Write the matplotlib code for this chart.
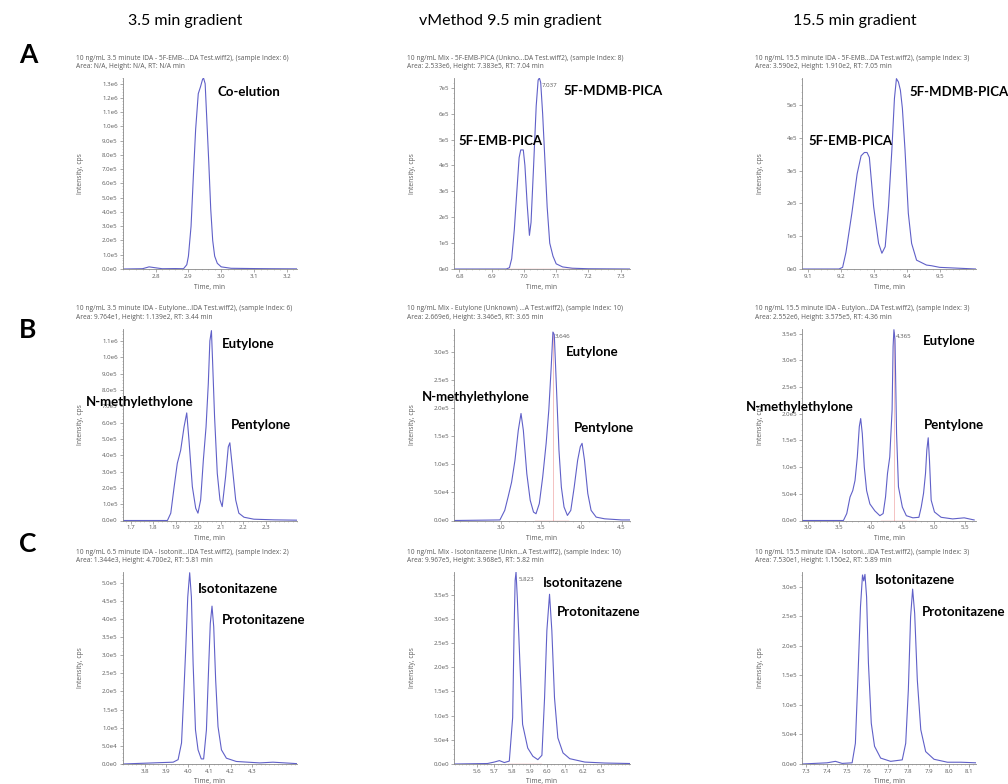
import numpy as np
import matplotlib.pyplot as plt
from matplotlib.ticker import AutoMinorLocator

W, H = 1008, 784

# column headers and row letters
col_titles = ['3.5 min gradient', 'vMethod 9.5 min gradient', '15.5 min gradient']
row_letters = ['A', 'B', 'C']

# ---- traces (time in min, intensity in units of 1e5 cps) ----
a1_t = [2.700, 2.760, 2.780, 2.795, 2.820, 2.860, 2.885, 2.895, 2.900, 2.908, 2.915, 2.922, 2.930,
        2.937, 2.943, 2.946, 2.951, 2.956, 2.962, 2.968, 2.974, 2.980, 2.988, 3.000, 3.030, 3.100,
        3.150, 3.230]
a1_i = [0.00, 0.02, 0.15, 0.10, 0.02, 0.03, 0.02, 0.30, 0.9, 3.0, 6.5, 9.8, 12.3,
        12.8, 13.3, 13.4, 13.0, 10.5, 7.5, 4.2, 2.0, 0.9, 0.4, 0.15, 0.05, 0.03,
        0.02, 0.01]

a2_t = [6.783, 6.900, 6.945, 6.955, 6.962, 6.970, 6.978, 6.985, 6.990, 6.998, 7.003, 7.010, 7.017,
        7.022, 7.030, 7.038, 7.044, 7.048, 7.052, 7.058, 7.065, 7.072, 7.080, 7.090, 7.100, 7.120,
        7.150, 7.200, 7.330]
a2_i = [0.00, 0.00, 0.00, 0.05, 0.4, 1.5, 3.0, 4.3, 4.6, 4.6, 4.0, 2.5, 1.3,
        1.8, 4.0, 6.3, 7.3, 7.38, 7.2, 6.0, 4.2, 2.4, 1.0, 0.5, 0.2, 0.08,
        0.03, 0.01, 0.00]

a3_t = [9.083, 9.195, 9.206, 9.216, 9.234, 9.250, 9.262, 9.272, 9.280, 9.287, 9.300, 9.315, 9.325,
        9.335, 9.345, 9.355, 9.363, 9.369, 9.375, 9.381, 9.387, 9.395, 9.405, 9.415, 9.430, 9.460,
        9.475, 9.500, 9.610]
a3_i = [0.00, 0.00, 0.05, 0.5, 1.7, 2.9, 3.45, 3.55, 3.55, 3.4, 1.9, 0.78, 0.48,
        0.68, 1.9, 3.6, 5.2, 5.8, 5.7, 5.45, 4.9, 3.63, 1.7, 0.78, 0.27, 0.12,
        0.1, 0.05, 0.00]

b1_t = [1.663, 1.863, 1.878, 1.893, 1.907, 1.922, 1.937, 1.949, 1.959, 1.974, 1.989, 1.999, 2.011,
        2.023, 2.035, 2.045, 2.052, 2.059, 2.064, 2.073, 2.085, 2.097, 2.107, 2.122, 2.134, 2.141,
        2.152, 2.167, 2.181, 2.204, 2.248, 2.337, 2.440]
b1_i = [0.00, 0.00, 0.45, 2.07, 3.5, 4.3, 5.73, 6.59, 4.92, 2.07, 0.75, 0.45, 1.26,
        3.7, 5.73, 8.37, 11.0, 11.63, 9.8, 6.34, 2.89, 1.26, 0.85, 2.68, 4.51, 4.76,
        3.29, 1.26, 0.45, 0.2, 0.08, 0.04, 0.02]

b2_t = [2.420, 2.990, 3.050, 3.092, 3.135, 3.177, 3.218, 3.252, 3.281, 3.324, 3.366, 3.407, 3.438,
        3.479, 3.521, 3.564, 3.597, 3.627, 3.648, 3.665, 3.690, 3.723, 3.753, 3.786, 3.828, 3.870,
        3.912, 3.955, 3.988, 4.010, 4.040, 4.081, 4.122, 4.185, 4.290, 4.500, 4.600]
b2_i = [0.00, 0.01, 0.18, 0.42, 0.68, 1.07, 1.6, 1.9, 1.6, 0.83, 0.36, 0.15, 0.12,
        0.3, 0.77, 1.37, 1.96, 2.73, 3.346, 3.3, 2.43, 1.25, 0.59, 0.24, 0.09, 0.18,
        0.59, 1.07, 1.31, 1.37, 1.07, 0.48, 0.18, 0.06, 0.03, 0.01, 0.01]

b3_t = [2.910, 3.567, 3.620, 3.672, 3.715, 3.751, 3.787, 3.819, 3.841, 3.866, 3.898, 3.935, 3.987,
        4.066, 4.145, 4.197, 4.235, 4.266, 4.302, 4.339, 4.355, 4.368, 4.385, 4.410, 4.440, 4.502,
        4.565, 4.669, 4.764, 4.801, 4.838, 4.869, 4.890, 4.912, 4.932, 4.959, 5.011, 5.117, 5.299,
        5.483, 5.641]
b3_i = [0.00, 0.00, 0.13, 0.44, 0.56, 0.75, 1.19, 1.76, 1.91, 1.63, 1.0, 0.56, 0.31,
        0.18, 0.09, 0.13, 0.44, 0.88, 1.19, 2.07, 3.26, 3.575, 3.39, 1.63, 0.63, 0.25,
        0.09, 0.05, 0.06, 0.25, 0.51, 0.88, 1.32, 1.55, 1.13, 0.38, 0.16, 0.06, 0.03,
        0.05, 0.01]

c1_t = [3.696, 3.932, 3.955, 3.971, 3.981, 3.991, 4.000, 4.009, 4.017, 4.025, 4.036, 4.048, 4.063,
        4.074, 4.087, 4.098, 4.105, 4.113, 4.121, 4.130, 4.141, 4.157, 4.180, 4.226, 4.335, 4.397,
        4.509]
c1_i = [0.00, 0.05, 0.12, 0.58, 1.86, 3.23, 4.6, 5.27, 4.6, 2.77, 0.94, 0.39, 0.14,
        0.14, 0.94, 2.77, 3.87, 4.35, 3.78, 2.32, 1.03, 0.39, 0.16, 0.07, 0.03, 0.05,
        0.01]

c2_t = [5.473, 5.662, 5.700, 5.729, 5.757, 5.785, 5.804, 5.812, 5.818, 5.823, 5.830, 5.845, 5.860,
        5.889, 5.918, 5.946, 5.969, 5.984, 5.997, 6.012, 6.025, 6.040, 6.059, 6.088, 6.126, 6.211,
        6.324, 6.466]
c2_i = [0.00, 0.01, 0.04, 0.07, 0.03, 0.06, 0.96, 2.76, 3.8, 3.968, 3.45, 2.07, 0.82,
        0.33, 0.16, 0.09, 0.18, 1.37, 2.76, 3.51, 2.76, 1.37, 0.54, 0.23, 0.11, 0.04,
        0.02, 0.01]

c3_t = [7.279, 7.402, 7.443, 7.476, 7.525, 7.541, 7.553, 7.566, 7.576, 7.582, 7.588, 7.596, 7.605,
        7.619, 7.635, 7.665, 7.714, 7.771, 7.788, 7.801, 7.812, 7.822, 7.832, 7.845, 7.862, 7.886,
        7.927, 7.993, 8.059, 8.133]
c3_i = [0.00, 0.02, 0.045, 0.01, 0.02, 0.35, 1.42, 2.66, 3.2, 3.1, 3.21, 2.83, 1.71,
        0.69, 0.3, 0.1, 0.045, 0.07, 0.35, 1.26, 2.49, 2.96, 2.55, 1.42, 0.58, 0.21,
        0.08, 0.03, 0.03, 0.02]

# ---- axis ranges and tick labels ----
a1_xlim, a1_ymax = (2.699, 3.231), 13.4
a1_xt = [2.8, 2.9, 3.0, 3.1, 3.2]
a1_yt = [0, 1, 2, 3, 4, 5, 6, 7, 8, 9, 10, 11, 12, 13]
a1_yl = ['0.0e0', '1.0e5', '2.0e5', '3.0e5', '4.0e5', '5.0e5', '6.0e5', '7.0e5', '8.0e5',
         '9.0e5', '1.0e6', '1.1e6', '1.2e6', '1.3e6']

a2_xlim, a2_ymax = (6.783, 7.329), 7.38
a2_xt = [6.8, 6.9, 7.0, 7.1, 7.2, 7.3]
a2_yt = [0, 1, 2, 3, 4, 5, 6, 7]
a2_yl = ['0e0', '1e5', '2e5', '3e5', '4e5', '5e5', '6e5', '7e5']

a3_xlim, a3_ymax = (9.083, 9.61), 5.82
a3_xt = [9.1, 9.2, 9.3, 9.4, 9.5]
a3_yt = [0, 1, 2, 3, 4, 5]
a3_yl = ['0e0', '1e5', '2e5', '3e5', '4e5', '5e5']

b1_xlim, b1_ymax = (1.663, 2.44), 11.73
b1_xt = [1.7, 1.8, 1.9, 2.0, 2.1, 2.2, 2.3]
b1_yt = [0, 1, 2, 3, 4, 5, 6, 7, 8, 9, 10, 11]
b1_yl = ['0.0e0', '1.0e5', '2.0e5', '3.0e5', '4.0e5', '5.0e5', '6.0e5', '7.0e5', '8.0e5',
         '9.0e5', '1.0e6', '1.1e6']

b2_xlim, b2_ymax = (2.42, 4.605), 3.40
b2_xt = [3.0, 3.5, 4.0, 4.5]
b2_yt = [0, 0.5, 1.0, 1.5, 2.0, 2.5, 3.0]
b2_yl = ['0.0e0', '5.0e4', '1.0e5', '1.5e5', '2.0e5', '2.5e5', '3.0e5']

b3_xlim, b3_ymax = (2.91, 5.67), 3.588
b3_xt = [3.0, 3.5, 4.0, 4.5, 5.0, 5.5]
b3_yt = [0, 0.5, 1.0, 1.5, 2.0, 2.5, 3.0, 3.5]
b3_yl = ['0.0e0', '5.0e4', '1.0e5', '1.5e5', '2.0e5', '2.5e5', '3.0e5', '3.5e5']

c1_xlim, c1_ymax = (3.696, 4.509), 5.29
c1_xt = [3.8, 3.9, 4.0, 4.1, 4.2, 4.3]
c1_yt = [0, 0.5, 1.0, 1.5, 2.0, 2.5, 3.0, 3.5, 4.0, 4.5, 5.0]
c1_yl = ['0.0e0', '5.0e4', '1.0e5', '1.5e5', '2.0e5', '2.5e5', '3.0e5', '3.5e5', '4.0e5',
         '4.5e5', '5.0e5']

c2_xlim, c2_ymax = (5.473, 6.466), 3.97
c2_xt = [5.6, 5.7, 5.8, 5.9, 6.0, 6.1, 6.2, 6.3]
c2_yt = [0, 0.5, 1.0, 1.5, 2.0, 2.5, 3.0, 3.5]
c2_yl = ['0.0e0', '5.0e4', '1.0e5', '1.5e5', '2.0e5', '2.5e5', '3.0e5', '3.5e5']

c3_xlim, c3_ymax = (7.279, 8.133), 3.25
c3_xt = [7.3, 7.4, 7.5, 7.6, 7.7, 7.8, 7.9, 8.0, 8.1]
c3_yt = [0, 0.5, 1.0, 1.5, 2.0, 2.5, 3.0]
c3_yl = ['0.0e0', '5.0e4', '1.0e5', '1.5e5', '2.0e5', '2.5e5', '3.0e5']

# header lines above each panel
headers = [
    ['10 ng/mL 3.5 minute IDA - 5F-EMB-...DA Test.wiff2), (sample Index: 6)',
     'Area: N/A, Height: N/A, RT: N/A min'],
    ['10 ng/mL Mix - 5F-EMB-PICA (Unkno...DA Test.wiff2), (sample Index: 8)',
     'Area: 2.533e6, Height: 7.383e5, RT: 7.04 min'],
    ['10 ng/mL 15.5 minute IDA - 5F-EMB...DA Test.wiff2), (sample Index: 3)',
     'Area: 3.590e2, Height: 1.910e2, RT: 7.05 min'],
    ['10 ng/mL 3.5 minute IDA - Eutylone...IDA Test.wiff2), (sample Index: 6)',
     'Area: 9.764e1, Height: 1.139e2, RT: 3.44 min'],
    ['10 ng/mL Mix - Eutylone (Unknown) ...A Test.wiff2), (sample Index: 10)',
     'Area: 2.669e6, Height: 3.346e5, RT: 3.65 min'],
    ['10 ng/mL 15.5 minute IDA - Eutylon...DA Test.wiff2), (sample Index: 3)',
     'Area: 2.552e6, Height: 3.575e5, RT: 4.36 min'],
    ['10 ng/mL 6.5 minute IDA - Isotonit...IDA Test.wiff2), (sample Index: 2)',
     'Area: 1.344e3, Height: 4.700e2, RT: 5.81 min'],
    ['10 ng/mL Mix - Isotonitazene (Unkn...A Test.wiff2), (sample Index: 10)',
     'Area: 9.967e5, Height: 3.968e5, RT: 5.82 min'],
    ['10 ng/mL 15.5 minute IDA - Isotoni...IDA Test.wiff2), (sample Index: 3)',
     'Area: 7.530e1, Height: 1.150e2, RT: 5.89 min'],
]

# compound labels (text, x px, y px)
labels = [
    [('Co-elution', 217, 92)],
    [('5F-EMB-PICA', 458, 141), ('5F-MDMB-PICA', 563, 91)],
    [('5F-EMB-PICA', 808, 141), ('5F-MDMB-PICA', 909, 92)],
    [('N-methylethylone', 86, 402), ('Eutylone', 222, 344), ('Pentylone', 231, 425)],
    [('N-methylethylone', 422, 397), ('Eutylone', 566, 352), ('Pentylone', 574, 428)],
    [('N-methylethylone', 746, 407), ('Eutylone', 923, 341), ('Pentylone', 924, 425)],
    [('Isotonitazene', 198, 589), ('Protonitazene', 222, 620)],
    [('Isotonitazene', 543, 583), ('Protonitazene', 557, 612)],
    [('Isotonitazene', 875, 580), ('Protonitazene', 922, 612)],
]

# integration baseline (start, end), apex (time, text, draw marker line) per panel
baselines = [None, (6.95, 7.155), None, None, (3.43, 3.83), (4.17, 4.72), None,
             (5.775, 5.965), None]
apex = [None, (7.048, '7.037', False), None, None, (3.648, '3.646', True),
        (4.368, '4.365', True), None, (5.823, '5.823', False), None]

traces = [(a1_t, a1_i), (a2_t, a2_i), (a3_t, a3_i), (b1_t, b1_i), (b2_t, b2_i), (b3_t, b3_i),
          (c1_t, c1_i), (c2_t, c2_i), (c3_t, c3_i)]
axes_cfg = [(a1_xlim, a1_ymax, a1_xt, a1_yt, a1_yl), (a2_xlim, a2_ymax, a2_xt, a2_yt, a2_yl),
            (a3_xlim, a3_ymax, a3_xt, a3_yt, a3_yl), (b1_xlim, b1_ymax, b1_xt, b1_yt, b1_yl),
            (b2_xlim, b2_ymax, b2_xt, b2_yt, b2_yl), (b3_xlim, b3_ymax, b3_xt, b3_yt, b3_yl),
            (c1_xlim, c1_ymax, c1_xt, c1_yt, c1_yl), (c2_xlim, c2_ymax, c2_xt, c2_yt, c2_yl),
            (c3_xlim, c3_ymax, c3_xt, c3_yt, c3_yl)]

# panel boxes in pixels
col_left = [122.5, 454, 802]
col_right = [297, 630, 976]
row_top = [78, 329, 572]
row_bottom = [269, 520.5, 764]

trace_color = '#6060c8'
grey = '#5a5a5a'
small = ['Open Sans', 'DejaVu Sans']
big = ['Lato', 'DejaVu Sans']

fig = plt.figure(figsize=(W / 100, H / 100), dpi=100)


def fx(x):
    return x / W


def fy(y):
    return 1 - y / H


for k in range(9):
    r, c = divmod(k, 3)
    l, rt = col_left[c], col_right[c]
    t, b = row_top[r], row_bottom[r]
    ax = fig.add_axes([fx(l), fy(b), (rt - l) / W, (b - t) / H])
    xlim, ymax, xt, yt, yl = axes_cfg[k]
    tt, ii = traces[k]
    ax.plot(tt, ii, color=trace_color, lw=0.8, zorder=2)
    if baselines[k] is not None:
        ax.plot(baselines[k], [0, 0], color='#e06060', lw=0.9, zorder=3)
    if apex[k] is not None:
        at, atxt, vline = apex[k]
        if vline:
            ax.plot([at, at], [0, ymax * 0.985], color='#f2b8b8', lw=0.6, zorder=1)
        ax.text(at + (xlim[1] - xlim[0]) * 0.012, ymax * 0.96, atxt, fontsize=4.4, color=grey,
                family=small, va='center')
    ax.set_xlim(xlim)
    ax.set_ylim(0, ymax)
    ax.set_xticks(xt)
    ax.set_xticklabels(['%.1f' % v for v in xt])
    ax.set_yticks(yt)
    ax.set_yticklabels(yl)
    ax.xaxis.set_minor_locator(AutoMinorLocator(5))
    ax.yaxis.set_minor_locator(AutoMinorLocator(5))
    for sp in ['top', 'right']:
        ax.spines[sp].set_visible(False)
    for sp in ['left', 'bottom']:
        ax.spines[sp].set_color('#888888')
        ax.spines[sp].set_linewidth(0.6)
    ax.tick_params(which='major', length=2.0, width=0.5, color='#888888', labelsize=4.4,
                   labelcolor=grey, pad=1.5)
    ax.tick_params(which='minor', length=1.0, width=0.4, color='#aaaaaa')
    for lab in ax.get_xticklabels() + ax.get_yticklabels():
        lab.set_family(small)

    # small header, axis labels
    fig.text(fx(l - 47), fy(t - 20), headers[k][0], fontsize=4.8, color=grey, family=small,
             va='center')
    fig.text(fx(l - 47), fy(t - 11), headers[k][1], fontsize=4.8, color=grey, family=small,
             va='center')
    fig.text(fx(l - 42), fy((t + b) / 2), 'Intensity, cps', fontsize=4.8, color=grey,
             family=small, rotation=90, va='center', ha='center')
    fig.text(fx((l + rt) / 2), fy(b + 18), 'Time, min', fontsize=4.8, color=grey,
             family=small, va='center', ha='center')

    for txt, x, y in labels[k]:
        fig.text(fx(x), fy(y), txt, fontsize=9.5, fontweight='bold', family=big,
                 va='center', ha='left', color='black')

title_x = [185, 510, 855]
for c, title in enumerate(col_titles):
    fig.text(fx(title_x[c]), fy(21), title, fontsize=11.5, family=big, ha='center', va='center')

for r, letter in enumerate(row_letters):
    fig.text(fx(28), fy([55, 330, 544][r]), letter, fontsize=19, fontweight='bold',
             family=big, ha='center', va='center')

plt.savefig('out.png', dpi=100)
